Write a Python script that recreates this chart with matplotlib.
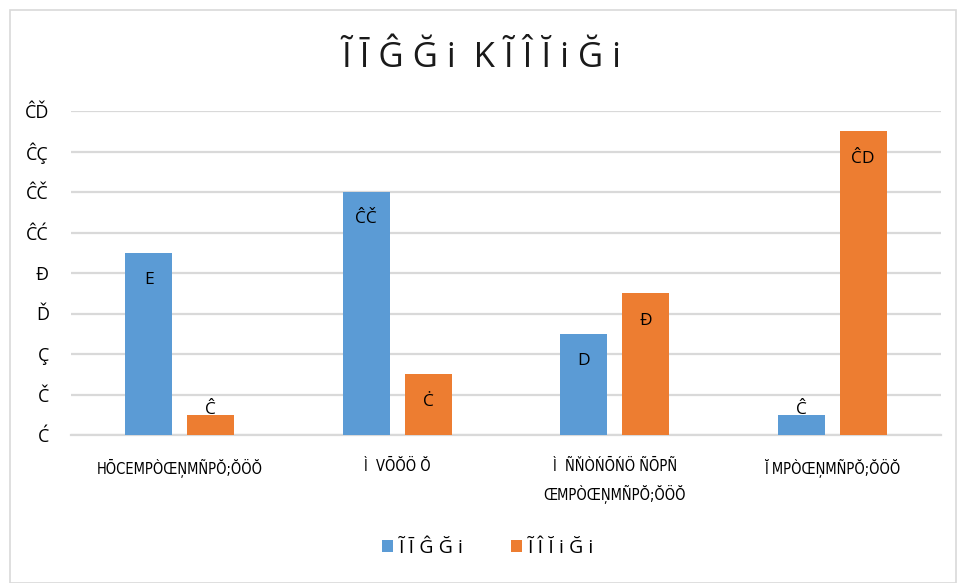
import matplotlib
matplotlib.use('Agg')
import matplotlib.pyplot as plt
from matplotlib.patches import Rectangle
import numpy as np

plt.rcParams['font.family'] = ['Open Sans', 'DejaVu Sans']

# data
categories = ['HŌCEMPÒŒŅMÑPŎ;ŎÖŎ', 'Ì  VŌŎÖ Ŏ', 'Ì  ÑŇÒŃŌŃÖ ÑŌPÑ\nŒMPÒŒŅMÑPŎ;ŎÖŎ', 'Ĭ MPÒŒŅMÑPŎ;ŎÖŎ']
series1_name = 'Ĩ Ī Ĝ Ğ i'
series2_name = 'Ĩ Î Ĭ i Ğ i'
series1 = [9, 12, 5, 1]
series2 = [1, 3, 7, 15]
series1_labels = ['E', 'ĈČ', 'D', 'Ĉ']
series2_labels = ['Ĉ', 'Ċ', 'Đ', 'ĈD']
yticks = [0, 2, 4, 6, 8, 10, 12, 14, 16]
ytick_labels = ['Ć', 'Č', 'Ç', 'Ď', 'Đ', 'ĈĆ', 'ĈČ', 'ĈÇ', 'ĈĎ']
title = 'Ĩ Ī Ĝ Ğ i  K Ĩ Î Ĭ i Ğ i'

blue = '#5B9BD5'
orange = '#ED7D31'
grid_c = '#D9D9D9'

fig = plt.figure(figsize=(9.57, 5.83), dpi=100)
ax = fig.add_axes([71/957, 1-435/583, (941-71)/957, (435-111)/583])

x = np.arange(len(categories))
w = 0.216
off = 0.1425
b1 = ax.bar(x - off, series1, width=w, color=blue, zorder=3)
b2 = ax.bar(x + off, series2, width=w, color=orange, zorder=3)

def put_labels(vals, labs, xs):
    for xi, v, s in zip(xs, vals, labs):
        y = v - 1.35 if v > 2 else v + 0.25
        ax.text(xi, y, s, ha='center', va='center', fontsize=12.5, color='black', zorder=4)

put_labels(series1, series1_labels, x - off)
put_labels(series2, series2_labels, x + off)

ax.set_xlim(-0.5, len(categories) - 0.5)
ax.set_ylim(0, 16)
ax.set_yticks(yticks)
ax.set_yticklabels(ytick_labels, fontsize=13)
ax.set_xticks(x)
ax.set_xticklabels(categories, fontsize=10.5, family=['DejaVu Sans'], fontstretch='condensed',
                   linespacing=1.75)
ax.tick_params(axis='both', length=0)
ax.tick_params(axis='y', pad=16)
ax.tick_params(axis='x', pad=17)
ax.yaxis.grid(True, color=grid_c, linewidth=1.6, zorder=0)
ax.set_axisbelow(True)
for s in ['top', 'right', 'left']:
    ax.spines[s].set_visible(False)
ax.spines['bottom'].set_color(grid_c)
ax.spines['bottom'].set_linewidth(1.6)

fig.text(481/957, 1-58/583, title, ha='center', va='center', fontsize=25, color='#1a1a1a')

# legend
leg = fig.legend([b1, b2], [series1_name, series2_name], loc='center',
                 bbox_to_anchor=(488/957, 1-548/583), ncol=2, frameon=False,
                 fontsize=14, handlelength=0.6, handleheight=0.6,
                 handletextpad=0.3, columnspacing=2.4)

fig.patches.append(Rectangle((10/957, 0), 1-10/957 - 1/957, 1-10/583, transform=fig.transFigure,
                             fill=False, edgecolor=grid_c, linewidth=1.2))

fig.savefig('out.png', dpi=100, facecolor='white')
